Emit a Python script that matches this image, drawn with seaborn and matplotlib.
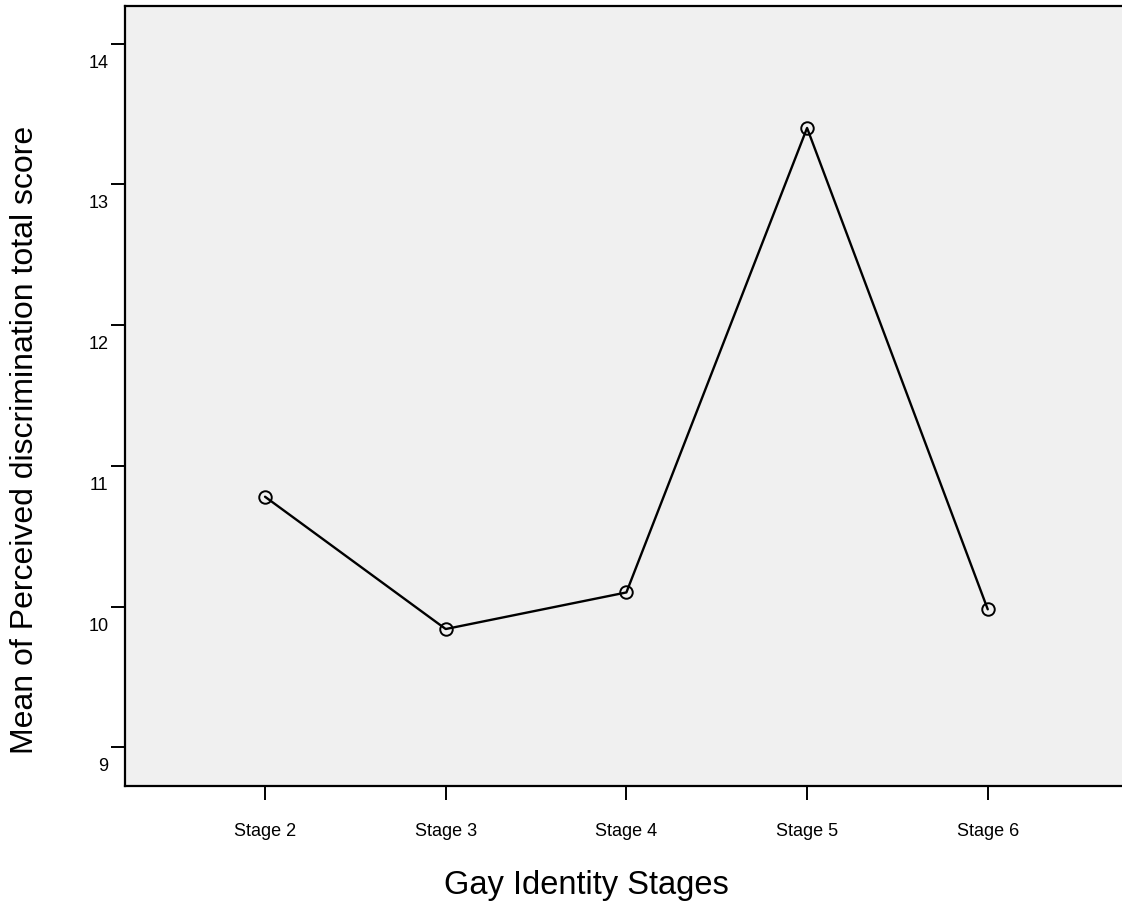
import matplotlib
matplotlib.use("Agg")
import matplotlib.pyplot as plt
import matplotlib.transforms as mtransforms
import numpy as np
import pandas as pd
import seaborn as sns

stages = ["Stage 2", "Stage 3", "Stage 4", "Stage 5", "Stage 6"]
means = [10.78, 9.84, 10.10, 13.40, 9.98]
y_ticks = [9, 10, 11, 12, 13, 14]

df = pd.DataFrame({"stage": stages, "mean": means})

sns.set_style("white")
plt.rcParams["font.family"] = ["Liberation Sans", "DejaVu Sans"]
plt.rcParams["text.color"] = "black"
plt.rcParams["axes.labelcolor"] = "black"
plt.rcParams["xtick.color"] = "black"
plt.rcParams["ytick.color"] = "black"

fig = plt.figure(figsize=(11.22, 9.03), dpi=100)
ax = fig.add_axes([0.1114, 0.1285, 1.0 - 0.1114, 0.9928 - 0.1285])
ax.set_facecolor("#f0f0f0")

sns.lineplot(data=df, x="stage", y="mean", ax=ax, color="black", linewidth=1.7,
             marker="o", markersize=9, markerfacecolor="none",
             markeredgecolor="black", markeredgewidth=1.4, sort=False)

ax.set_xlim(-0.775, 4.743)
ax.set_ylim(8.725, 14.27)
ax.set_yticks(y_ticks)
ax.set_yticklabels([str(v) for v in y_ticks])

for side in ["left", "bottom", "top"]:
    ax.spines[side].set_visible(True)
    ax.spines[side].set_color("black")
    ax.spines[side].set_linewidth(1.6)
ax.spines["right"].set_visible(False)

ax.tick_params(axis="both", which="major", direction="out", length=10,
               width=1.4, color="black", labelcolor="black", labelsize=13,
               left=True, bottom=True)
ax.tick_params(axis="x", pad=16)
ax.tick_params(axis="y", pad=2)

# SPSS-style y labels sit just below their tick
offset = mtransforms.ScaledTranslation(0, -0.10, fig.dpi_scale_trans)
for t in ax.yaxis.get_major_ticks():
    t.label1.set_verticalalignment("top")
    t.label1.set_transform(t.label1.get_transform() + offset)

ax.set_xlabel("Gay Identity Stages", fontsize=23.5, color="black")
ax.set_ylabel("Mean of Perceived discrimination total score", fontsize=23, color="black")
ax.xaxis.set_label_coords(0.463, -0.106)
ax.yaxis.set_label_coords(-0.085, 0.445)

fig.savefig("out.png", dpi=100)
